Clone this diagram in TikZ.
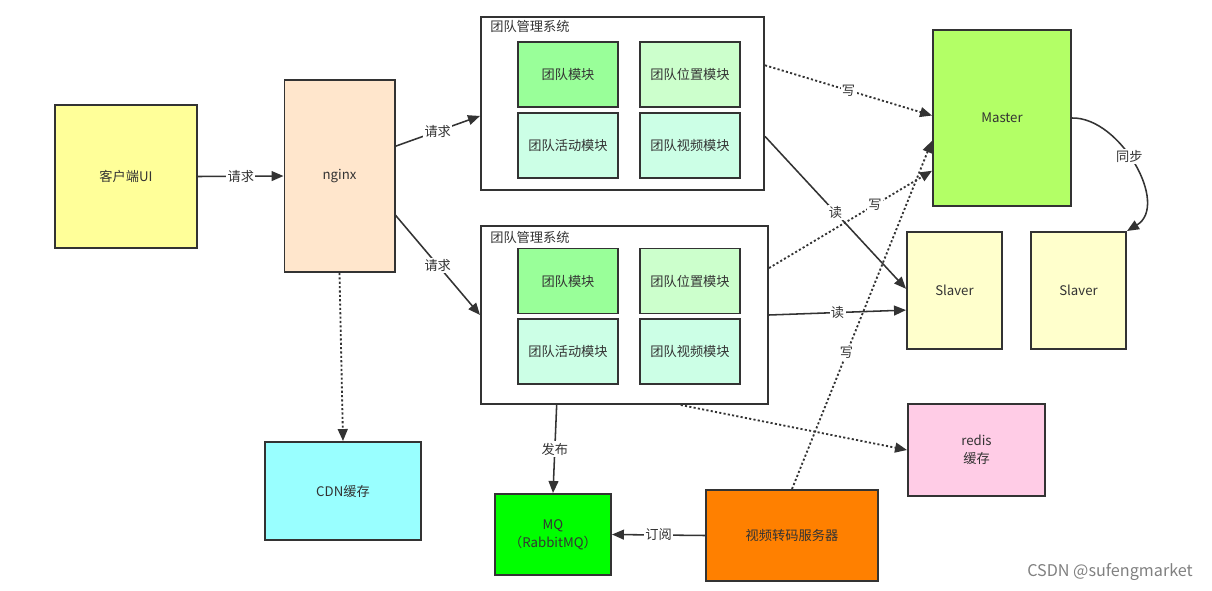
\documentclass[tikz,border=0pt]{standalone}
\usepackage{fontspec}
\setmainfont{Noto Sans CJK SC}
\usepackage{tikz}
\usetikzlibrary{arrows.meta}
\definecolor{linegray}{HTML}{333333}
\definecolor{clientyellow}{HTML}{FFFF99}
\definecolor{nginxorange}{HTML}{FFE6CC}
\definecolor{teamgreen}{HTML}{99FF99}
\definecolor{posgreen}{HTML}{CCFFCC}
\definecolor{mintgreen}{HTML}{CCFFE6}
\definecolor{mastergreen}{HTML}{B3FF66}
\definecolor{slaveryellow}{HTML}{FFFFCC}
\definecolor{redispink}{HTML}{FFCCE6}
\definecolor{cdncyan}{HTML}{99FFFF}
\definecolor{mqgreen}{HTML}{00FF00}
\definecolor{videoorange}{HTML}{FF8000}
\tikzset{%
    request/.style={
		draw=linegray,
		line width=1.1pt,
		-{Triangle[length=8.5pt,width=7pt]}
	}
}
\tikzset{writeop/.style={request, line width=1.3pt, dash pattern=on 1.5pt off 1.6pt}}
\tikzset{box/.style={draw=linegray, line width=1.4pt, rectangle, align=center}}
\tikzset{lbl/.style={fill=white, inner sep=1pt}}

\begin{document}
\begin{tikzpicture}[x=0.025cm, y=-0.025cm]
		% Default action for each node
		\tikzstyle{every node}=[font=\fontsize{9.4}{12.8}\selectfont, text=linegray];
		\useasboundingbox (0,0) rectangle (1212,591);

		\node[box, fill=clientyellow, minimum width=3.55cm, minimum height=3.575cm] (client) at (126,176.5) {客户端UI};
		\node[box, fill=nginxorange, minimum width=2.75cm, minimum height=4.8cm] (nginx) at (339.5,176) {nginx};
		\node[box, fill=cdncyan, minimum width=3.9cm, minimum height=2.45cm] (cdn) at (343,491) {CDN缓存};

		% team management systems
		\node[box, fill=white, minimum width=7.075cm, minimum height=4.325cm] (top) at (622.5,103.5) {};
		\node[anchor=west, inner sep=0pt] (toptitle) at (490,26) {团队管理系统};
		\node[box, fill=teamgreen, minimum width=2.5cm, minimum height=1.625cm] (topteam) at (568,74.5) {团队模块};
		\node[box, fill=posgreen, minimum width=2.5cm, minimum height=1.625cm] (toppos) at (690,74.5) {团队位置模块};
		\node[box, fill=mintgreen, minimum width=2.5cm, minimum height=1.625cm] (topact) at (568,145.5) {团队活动模块};
		\node[box, fill=mintgreen, minimum width=2.5cm, minimum height=1.625cm] (topvideo) at (690,145.5) {团队视频模块};

		\node[box, fill=white, minimum width=7.175cm, minimum height=4.45cm] (bot) at (624.5,315) {};
		\node[anchor=west, inner sep=0pt] (bottitle) at (490,237) {团队管理系统};
		\node[box, fill=teamgreen, minimum width=2.5cm, minimum height=1.625cm] (botteam) at (568,281) {团队模块};
		\node[box, fill=posgreen, minimum width=2.5cm, minimum height=1.625cm] (botpos) at (690,281) {团队位置模块};
		\node[box, fill=mintgreen, minimum width=2.5cm, minimum height=1.625cm] (botact) at (568,351.5) {团队活动模块};
		\node[box, fill=mintgreen, minimum width=2.5cm, minimum height=1.625cm] (botvideo) at (690,351.5) {团队视频模块};

		% database
		\node[box, fill=mastergreen, minimum width=3.45cm, minimum height=4.4cm] (master) at (1002,118) {Master};
		\node[box, fill=slaveryellow, minimum width=2.375cm, minimum height=2.925cm] (slaverA) at (954.5,290.5) {Slaver};
		\node[box, fill=slaveryellow, minimum width=2.375cm, minimum height=2.925cm] (slaverB) at (1078.5,290.5) {Slaver};
		\node[box, fill=redispink, minimum width=3.425cm, minimum height=2.3cm] (redis) at (976.5,450) {redis\\缓存};

		\node[box, fill=mqgreen, minimum width=2.9cm, minimum height=2.025cm] (mq) at (553,534.5) {MQ\\（RabbitMQ）};
		\node[box, fill=videoorange, minimum width=4.3cm, minimum height=2.275cm] (video) at (792,535.5) {视频转码服务器};

		\node[text=gray, font=\fontsize{11.5}{13}\selectfont] (mark) at (1110,572) {CSDN @sufengmarket};

		\draw[request] (client.east) -- node[lbl] {请求} (nginx.west);
		\draw[request] (nginx.28) -- node[lbl] {请求} (top.185);
		\draw[request] (nginx.-35) -- node[lbl] {请求} (bot.west);
		\draw[writeop] (nginx.south) -- (cdn.north);

		\draw[writeop] (top.15) -- node[lbl] {写} (master.178);
		\draw[request] (top.-13) -- node[lbl] {读} (slaverA.178);
		\draw[writeop] (bot.18) -- node[lbl, pos=0.65] {写} (master.217);
		\draw[request] (bot.east) -- node[lbl] {读} (slaverA.202);
		\draw[writeop] (video.north) -- node[lbl, pos=0.39] {写} (master.198);
		\draw[writeop] (bot.-58) -- (redis.west);

		\draw[request] (bot.233) -- node[lbl] {发布} (mq.north);
		\draw[request] (video.west) -- node[lbl] {订阅} (mq.east);
		\draw[request] (master.east) .. controls (1120,117) and (1170,205) .. node[lbl, pos=0.45] {同步} (slaverB.north east);
	\end{tikzpicture}
\end{document}
